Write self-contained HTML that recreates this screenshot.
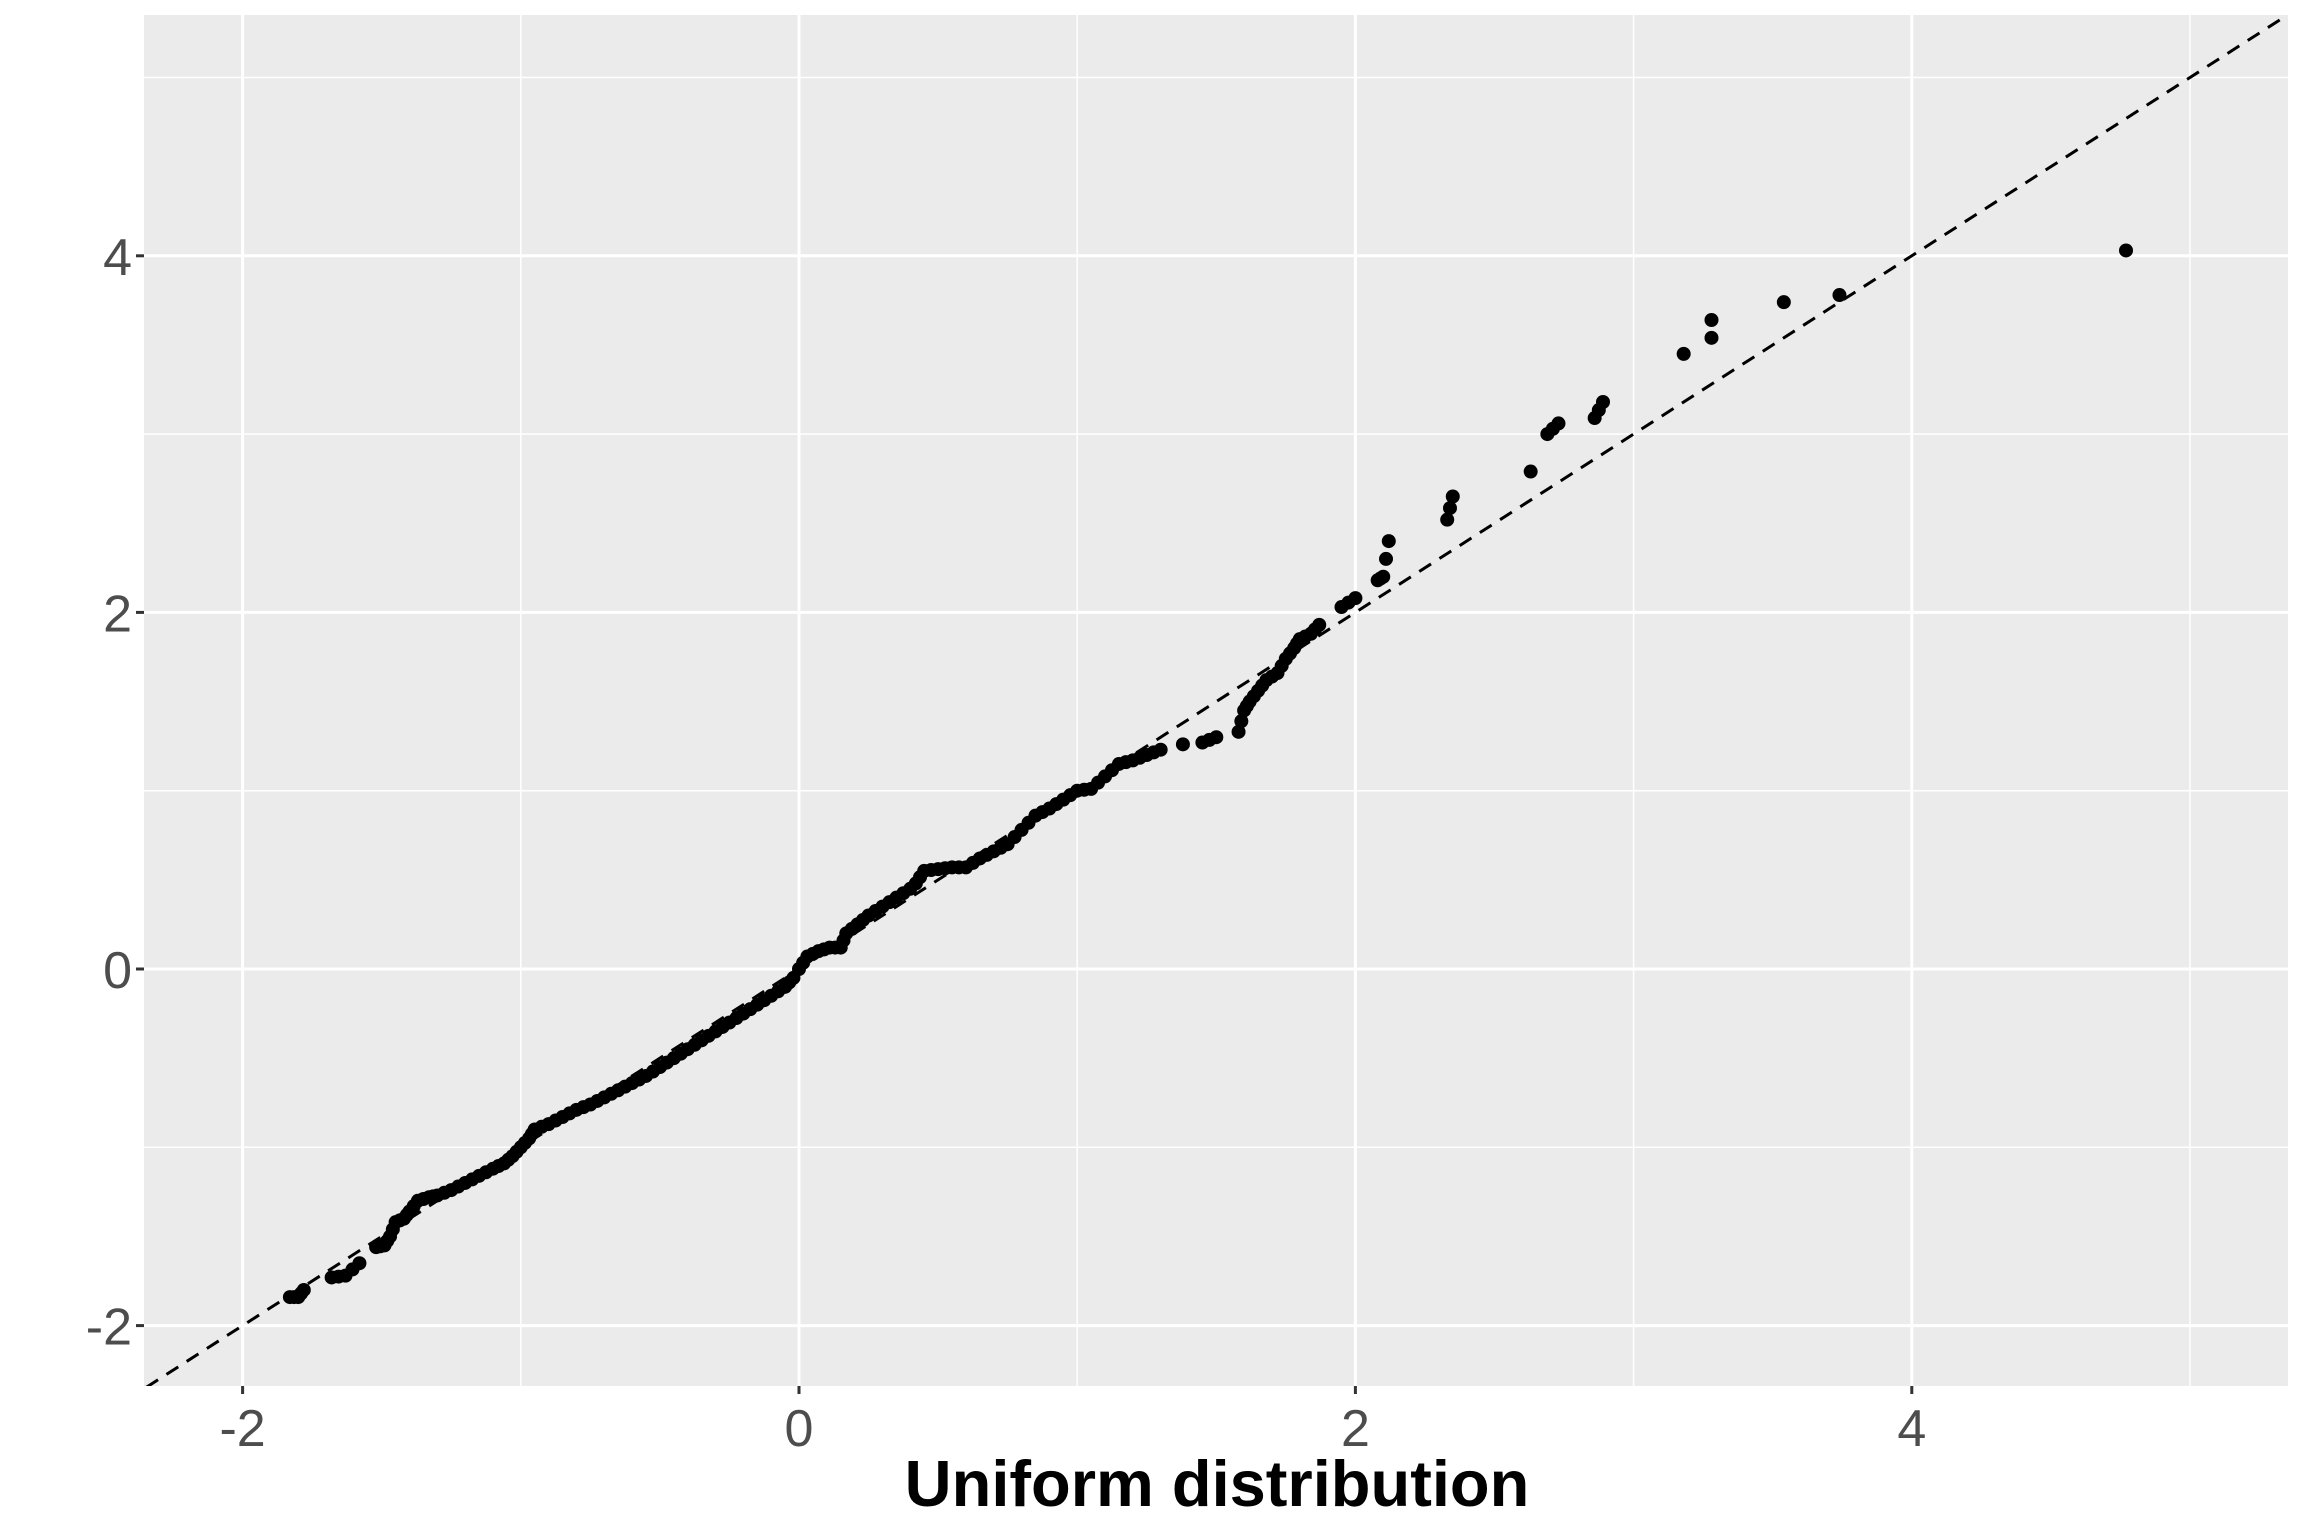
<!DOCTYPE html>
<html><head><meta charset="utf-8"><style>
html,body{margin:0;padding:0;background:#fff;}
svg{display:block;font-family:"Liberation Sans",sans-serif;}
</style></head><body>
<svg id="chart" width="2304" height="1536" viewBox="0 0 2304 1536" xmlns="http://www.w3.org/2000/svg">
<defs><clipPath id="clip"><rect x="144" y="15" width="2144" height="1371"/></clipPath></defs>
<rect x="144" y="15" width="2144" height="1371" fill="#ebebeb"/>
<g id="grid"></g>
<g id="refline" clip-path="url(#clip)"></g>
<g id="points" clip-path="url(#clip)"></g>
<g id="axes"></g>
<text x="1217" y="1506" text-anchor="middle" font-size="65" font-weight="bold" fill="#000">Uniform distribution</text>
</svg>
<script>
const xTicks=[-2,0,2,4];
const yTicks=[-2,0,2,4];
const xMinor=[-1,1,3,5];
const yMinor=[-1,1,3,5];
const sampleX=[-1.83,-1.8,-1.78,-1.68,-1.63,-1.58,-1.52,-1.49,-1.47,-1.45,-1.42,-1.4,-1.37,-1.33,-1.3,-1.25,-1.2,-1.15,-1.1,-1.06,-1.03,-1.0,-0.97,-0.95,-0.9,-0.85,-0.8,-0.75,-0.7,-0.65,-0.6,-0.55,-0.5,-0.45,-0.4,-0.35,-0.3,-0.25,-0.2,-0.15,-0.1,-0.05,-0.02,0,0.03,0.07,0.11,0.15,0.17,0.21,0.25,0.3,0.35,0.4,0.42,0.45,0.5,0.55,0.6,0.65,0.7,0.75,0.8,0.85,0.9,0.95,1.0,1.05,1.1,1.15,1.2,1.25,1.3,1.38,1.45,1.5,1.58,1.6,1.62,1.65,1.68,1.72,1.75,1.78,1.8,1.84,1.87,1.95,2.0,2.08,2.1,2.12,2.33,2.35,2.63,2.69,2.73,2.86,2.89,3.18,3.28,3.28,3.54,3.74,4.77];
const sampleY=[-1.84,-1.84,-1.8,-1.73,-1.72,-1.65,-1.56,-1.55,-1.5,-1.42,-1.4,-1.36,-1.3,-1.28,-1.27,-1.24,-1.2,-1.16,-1.12,-1.09,-1.05,-1.0,-0.95,-0.9,-0.87,-0.83,-0.79,-0.76,-0.72,-0.68,-0.64,-0.6,-0.55,-0.5,-0.45,-0.4,-0.35,-0.3,-0.25,-0.2,-0.15,-0.1,-0.05,0,0.07,0.1,0.12,0.12,0.2,0.25,0.3,0.35,0.4,0.45,0.48,0.55,0.56,0.57,0.57,0.62,0.66,0.7,0.78,0.86,0.9,0.95,1.0,1.01,1.08,1.15,1.17,1.2,1.23,1.26,1.27,1.3,1.33,1.45,1.5,1.56,1.62,1.66,1.74,1.8,1.85,1.88,1.93,2.03,2.08,2.18,2.2,2.4,2.52,2.65,2.79,3.0,3.06,3.09,3.18,3.45,3.54,3.64,3.74,3.78,4.03];
const NS="http://www.w3.org/2000/svg";
const L=144,R=2288,T=15,B=1386;
function sx(v){return 799+v*278.2;}
function sy(v){return 969-v*178.3;}
function mk(tag,attrs,parent){const e=document.createElementNS(NS,tag);for(const k in attrs)e.setAttribute(k,attrs[k]);parent.appendChild(e);return e;}
const grid=document.getElementById('grid'),axes=document.getElementById('axes');
xMinor.forEach(v=>{const l=mk('line',{x1:sx(v),x2:sx(v),y1:T,y2:B,stroke:'#fff','stroke-width':1.5},grid);

});
yMinor.forEach(v=>{const l=mk('line',{x1:L,x2:R,y1:sy(v),y2:sy(v),stroke:'#fff','stroke-width':1.5},grid);

});
xTicks.forEach(v=>{const l=mk('line',{x1:sx(v),x2:sx(v),y1:T,y2:B,stroke:'#fff','stroke-width':3},grid);


const t=mk('line',{x1:sx(v),x2:sx(v),y1:B,y2:B+8,stroke:'#333','stroke-width':3},axes);


const tx=mk('text',{x:sx(v),y:1446,'text-anchor':'middle','font-size':52,fill:'#4d4d4d'},axes);tx.textContent=v;

});
yTicks.forEach(v=>{const l=mk('line',{x1:L,x2:R,y1:sy(v),y2:sy(v),stroke:'#fff','stroke-width':3},grid);


const t=mk('line',{x1:L-8,x2:L,y1:sy(v),y2:sy(v),stroke:'#333','stroke-width':3},axes);


const tx=mk('text',{x:132,y:sy(v)+19,'text-anchor':'end','font-size':52,fill:'#4d4d4d'},axes);tx.textContent=v;

});
const rl=mk('line',{x1:sx(-3),y1:sy(-3),x2:sx(6),y2:sy(6),stroke:'#000','stroke-width':3,'stroke-dasharray':'14 10'},document.getElementById('refline'));


const pg=document.getElementById('points');
for(let i=0;i<sampleX.length;i++){
  const c=mk('circle',{cx:sx(sampleX[i]),cy:sy(sampleY[i]),r:7,fill:'#000'},pg);
  
  
  if(i<sampleX.length-1){
    const dx=sampleX[i+1]-sampleX[i];
    if(dx<0.06&&dx>0.02){const m=mk('circle',{cx:sx((sampleX[i]+sampleX[i+1])/2),cy:sy((sampleY[i]+sampleY[i+1])/2),r:7,fill:'#000'},pg);
    
    }
  }
}
</script>
</body></html>
